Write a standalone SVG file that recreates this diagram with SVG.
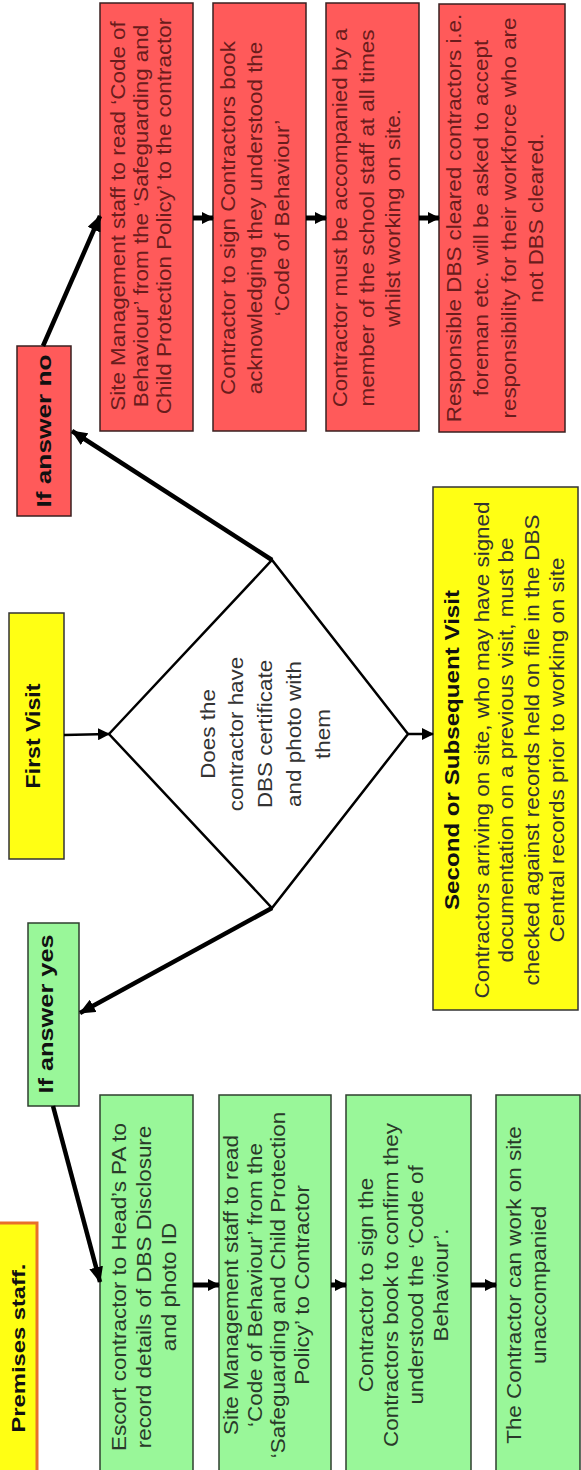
<svg xmlns="http://www.w3.org/2000/svg" width="581" height="1470" viewBox="0 0 581 1470">
<style>
.t{font-family:"Liberation Sans",Arial,sans-serif;font-size:19.5px;text-anchor:middle}
.b{font-family:"Liberation Sans",Arial,sans-serif;font-size:21px;font-weight:bold;text-anchor:middle;fill:#111}
.red{fill:#ff5a5a;stroke:#3a2020;stroke-width:1.5}
.grn{fill:#99f799;stroke:#2f3f2f;stroke-width:1.5}
.yel{fill:#ffff14;stroke:#333;stroke-width:1.5}
.rt{fill:#6a1c1c}
.gt{fill:#2a3a2a}
.yt{fill:#333}
.thick{stroke:#000;stroke-width:4.5;fill:none}
.thin{stroke:#000;stroke-width:2.5;fill:none}
.step{stroke:#000;stroke-width:5;fill:none}
</style>
<defs>
<marker id="ah" markerUnits="userSpaceOnUse" markerWidth="16" markerHeight="14" refX="15" refY="7" orient="auto">
<path d="M0,0 L16,7 L0,14 Z" fill="#000"/>
</marker>
<marker id="ahs" markerUnits="userSpaceOnUse" markerWidth="12" markerHeight="12" refX="11" refY="6" orient="auto">
<path d="M0,0 L12,6 L0,12 Z" fill="#000"/>
</marker>
</defs>
<rect width="581" height="1470" fill="#fff"/>

<g id="premises">
<rect x="-3" y="1223" width="40" height="260" fill="#ffff14" stroke="#e8702a" stroke-width="3"/>
<g transform="translate(0,1348) rotate(-90) scale(1.25,1)"><text class="b" y="25" style="font-size:19px">Premises staff.</text></g>
</g>

<g id="first-visit">
<rect class="yel" x="9" y="613" width="55" height="246"/>
<g transform="translate(0,736) rotate(-90) scale(1.1,1)"><text class="b" y="40">First Visit</text></g>
</g>

<g id="answer-no">
<rect class="red" x="17" y="346" width="54" height="170"/>
<g transform="translate(0,431) rotate(-90) scale(1.25,1)"><text class="b" y="51">If answer no</text></g>
</g>

<g id="answer-yes">
<rect class="grn" x="28" y="923" width="51" height="183"/>
<g transform="translate(0,1014) rotate(-90) scale(1.3,1)"><text class="b" y="53" style="font-size:19.5px">If answer yes</text></g>
</g>

<g id="decision">
<polygon points="109,734 272,560 408,734 272,908" fill="#fff" stroke="#000" stroke-width="2.5"/>
<g transform="translate(0,734) rotate(-90) scale(1.15,1)" class="yt">
<text class="t" y="215">Does the</text>
<text class="t" y="243">contractor have</text>
<text class="t" y="272">DBS certificate</text>
<text class="t" y="301">and photo with</text>
<text class="t" y="330">them</text>
</g>
</g>

<g id="second-visit">
<rect class="yel" x="433" y="487" width="145" height="523"/>
<g transform="translate(0,750) rotate(-90) scale(1.15,1)" class="yt">
<text class="b" y="459">Second or Subsequent Visit</text>
<text class="t" y="489">Contractors arriving on site,  who may have signed</text>
<text class="t" y="513">documentation on a previous visit, must be</text>
<text class="t" y="539">checked against records held on file in the DBS</text>
<text class="t" y="564">Central records prior to working on site</text>
</g>
</g>

<g id="red1">
<rect class="red" x="100" y="3" width="93" height="428"/>
<g transform="translate(0,216) rotate(-90) scale(1.15,1)" class="rt">
<text class="t" y="125">Site Management staff to read ‘Code of</text>
<text class="t" y="148">Behaviour’ from the ‘Safeguarding and</text>
<text class="t" y="171">Child Protection Policy’ to the contractor</text>
</g>
</g>

<g id="red2">
<rect class="red" x="213" y="3" width="93" height="428"/>
<g transform="translate(0,218) rotate(-90) scale(1.15,1)" class="rt">
<text class="t" y="235">Contractor to sign Contractors book</text>
<text class="t" y="262">acknowledging they understood the</text>
<text class="t" y="289">‘Code of Behaviour’</text>
</g>
</g>

<g id="red3">
<rect class="red" x="326" y="3" width="93" height="428"/>
<g transform="translate(0,218) rotate(-90) scale(1.15,1)" class="rt">
<text class="t" y="347">Contractor must be accompanied by a</text>
<text class="t" y="374">member of the school staff at all times</text>
<text class="t" y="400">whilst working on site.</text>
</g>
</g>

<g id="red4">
<rect class="red" x="439" y="4" width="126" height="428"/>
<g transform="translate(0,218) rotate(-90) scale(1.15,1)" class="rt">
<text class="t" y="461">Responsible DBS cleared contractors i.e.</text>
<text class="t" y="488">foreman etc. will be asked to accept</text>
<text class="t" y="516">responsibility for their workforce who are</text>
<text class="t" y="543">not DBS cleared.</text>
</g>
</g>

<g id="green1">
<rect class="grn" x="100" y="1095" width="93" height="390"/>
<g transform="translate(0,1287) rotate(-90) scale(1.15,1)" class="gt">
<text class="t" y="126">Escort contractor to Head’s PA to</text>
<text class="t" y="151">record details of DBS Disclosure</text>
<text class="t" y="176">and photo ID</text>
</g>
</g>

<g id="green2">
<rect class="grn" x="219" y="1095" width="112" height="390"/>
<g transform="translate(0,1285) rotate(-90) scale(1.15,1)" class="gt">
<text class="t" y="238">Site Management staff to read</text>
<text class="t" y="262">‘Code of Behaviour’ from the</text>
<text class="t" y="285">‘Safeguarding and Child Protection</text>
<text class="t" y="309">Policy’ to Contractor</text>
</g>
</g>

<g id="green3">
<rect class="grn" x="346" y="1095" width="125" height="390"/>
<g transform="translate(0,1285) rotate(-90) scale(1.15,1)" class="gt">
<text class="t" y="373">Contractor to sign the</text>
<text class="t" y="398">Contractors book to confirm they</text>
<text class="t" y="423">understood the ‘Code of</text>
<text class="t" y="448">Behaviour’.</text>
</g>
</g>

<g id="green4">
<rect class="grn" x="496" y="1095" width="84" height="390"/>
<g transform="translate(0,1285) rotate(-90) scale(1.15,1)" class="gt">
<text class="t" y="521">The Contractor can work on site</text>
<text class="t" y="546">unaccompanied</text>
</g>
</g>

<g id="connectors">
<line class="thin" x1="64" y1="735" x2="109" y2="734" marker-end="url(#ahs)"/>
<line class="thin" x1="408" y1="734" x2="433" y2="734" marker-end="url(#ahs)"/>
<line class="thick" x1="272" y1="560" x2="72" y2="431" marker-end="url(#ah)"/>
<line class="thick" x1="272" y1="908" x2="80" y2="1013" marker-end="url(#ah)"/>
<line class="thick" x1="43" y1="346" x2="100" y2="216" marker-end="url(#ah)"/>
<line class="thick" x1="53" y1="1106" x2="100" y2="1282" marker-end="url(#ah)"/>
<line class="step" x1="193" y1="218" x2="213" y2="218" marker-end="url(#ahs)"/>
<line class="step" x1="306" y1="218" x2="326" y2="218" marker-end="url(#ahs)"/>
<line class="step" x1="419" y1="218" x2="439" y2="218" marker-end="url(#ahs)"/>
<line class="step" x1="193" y1="1285" x2="219" y2="1285" marker-end="url(#ahs)"/>
<line class="step" x1="331" y1="1285" x2="346" y2="1285" marker-end="url(#ahs)"/>
<line class="step" x1="471" y1="1285" x2="496" y2="1285" marker-end="url(#ahs)"/>
</g>
</svg>
